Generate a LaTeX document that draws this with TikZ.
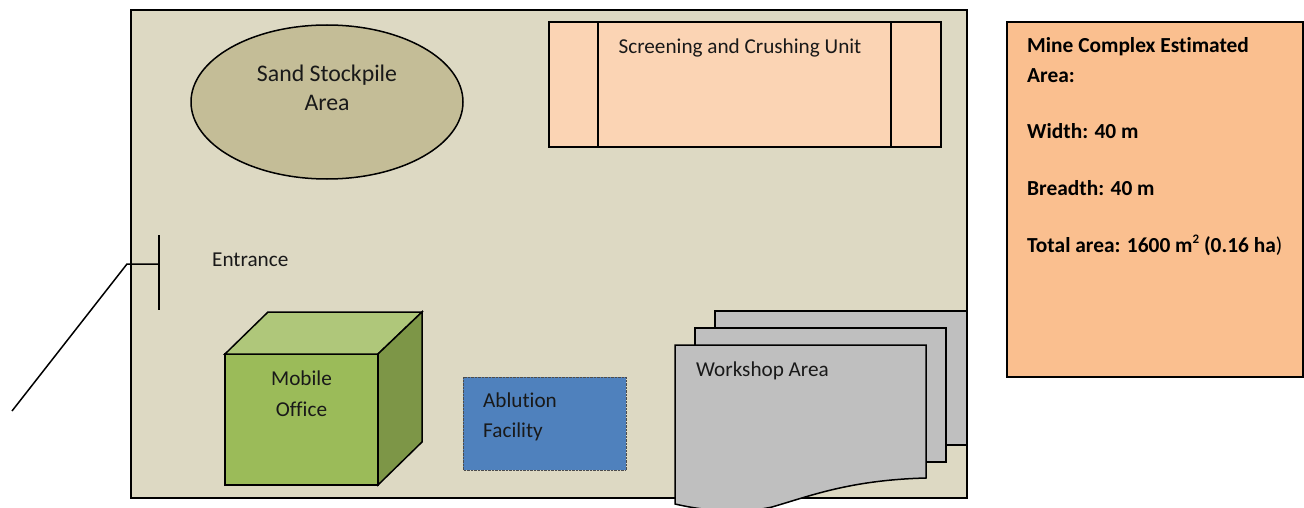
\documentclass[tikz,border=0pt]{standalone}
\usepackage{fontspec}
\setmainfont{Carlito}[Ligatures=NoCommon]
\definecolor{groundfill}{HTML}{DDD9C3}
\definecolor{sandfill}{HTML}{C4BD97}
\definecolor{crushfill}{HTML}{FBD4B4}
\definecolor{notefill}{HTML}{FABF8F}
\definecolor{officefront}{HTML}{9BBB59}
\definecolor{officetop}{HTML}{AFC77A}
\definecolor{officeside}{HTML}{7D9647}
\definecolor{ablutionfill}{HTML}{4F81BD}
\definecolor{workshopfill}{HTML}{BFBFBF}
\tikzset{
	outline/.style={draw=black, line width=1.5pt, line join=miter},
	label/.style={font=\fontsize{21.2}{26}\selectfont, text=black!90, inner sep=0pt},
	notelabel/.style={font=\fontsize{21.4}{26}\selectfont\bfseries, text=black, inner sep=0pt, anchor=base west},
}
\begin{document}
\begin{tikzpicture}[x=1pt, y=-1pt]
	\useasboundingbox (0, 0) rectangle (1304, 508);

	% site
	\draw[outline, fill=groundfill] (131, 10) rectangle (967, 498);

	% stockpile
	\draw[outline, fill=sandfill] (327, 102) ellipse (136 and 77);
	\node[label, anchor=base, font=\fontsize{23.8}{28}\selectfont] (sand) at (327, 82) {Sand Stockpile};
	\node[label, anchor=base, font=\fontsize{23.8}{28}\selectfont] (sandb) at (327, 111) {Area};

	% crushing unit
	\draw[outline, fill=crushfill] (549, 22) rectangle (941, 147);
	\draw[outline] (598, 22) -- (598, 147);
	\draw[outline] (891, 22) -- (891, 147);
	\node[label, anchor=base] (crush) at (740, 54) {Screening and Crushing Unit};

	% entrance
	\draw[line width=1.5pt] (159, 235) -- (159, 310);
	\draw[line width=1.5pt] (159, 264) -- (127, 264) -- (12, 411);
	\node[label, anchor=base west] (entrance) at (212, 266) {Entrance};

	% mobile office
	\draw[outline, fill=officefront] (225, 354) rectangle (378, 485);
	\draw[outline, fill=officetop] (225, 354) -- (268, 312) -- (422, 312) -- (378, 354) -- cycle;
	\draw[outline, fill=officeside] (378, 354) -- (422, 312) -- (422, 442) -- (378, 485) -- cycle;
	\node[label, anchor=base] (mobile) at (301.5, 385) {Mobile};
	\node[label, anchor=base] (office) at (301.5, 416) {Office};

	% ablution
	\draw[draw=black!70, densely dotted, fill=ablutionfill] (463, 377) rectangle (626, 470);
	\node[label, anchor=base west] (ablution) at (483, 407) {Ablution};
	\node[label, anchor=base west] (facility) at (483, 437) {Facility};

	% workshop
	\draw[outline, fill=workshopfill] (715, 311) -- (967, 311) -- (967, 445) -- (715, 445) -- cycle;
	\draw[outline, fill=workshopfill] (695, 328) -- (946, 328) -- (946, 462) -- (695, 462) -- cycle;
	\draw[outline, fill=workshopfill] (675, 345) -- (926, 345) -- (926, 478)
		.. controls (850, 480) and (810, 496) .. (772, 507)
		.. controls (740, 514) and (705, 511) .. (675, 504) -- cycle;
	\node[label, anchor=base west] (workshop) at (696, 376) {Workshop Area};

	% estimated area
	\draw[outline, fill=notefill] (1007, 22) rectangle (1303, 377);
	\node[notelabel] (title) at (1027, 53) {Mine Complex Estimated};
	\node[notelabel] (titleb) at (1027, 83) {Area:};
	\node[notelabel] (width) at (1027, 139) {Width: 40 m};
	\node[notelabel] (breadth) at (1027, 196) {Breadth: 40 m};
	\node[notelabel] (total) at (1027, 252) {Total area: 1600 m\raisebox{9pt}{\fontsize{13}{13}\selectfont 2} (0.16 ha{\mdseries )}};
\end{tikzpicture}
\end{document}
